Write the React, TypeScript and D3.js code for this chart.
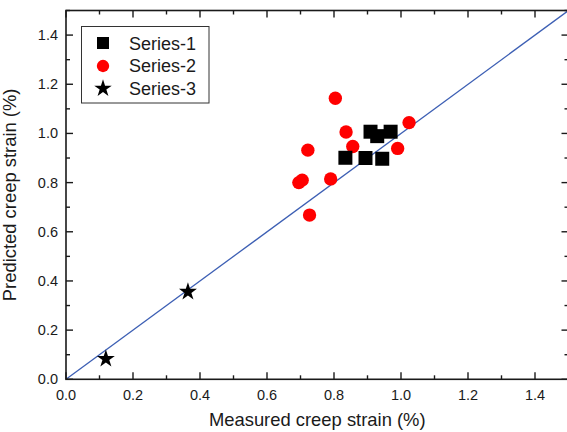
import React from "react";
import * as d3 from "d3";

const series1X = [0.834, 0.894, 0.944, 0.909, 0.929, 0.969];
const series1Y = [0.901, 0.9, 0.897, 1.007, 0.989, 1.007];
const series2X = [0.804, 0.836, 0.722, 0.856, 0.99, 1.024, 0.695, 0.705, 0.79, 0.727];
const series2Y = [1.143, 1.006, 0.932, 0.947, 0.939, 1.044, 0.8, 0.81, 0.815, 0.668];
const series3X = [0.119, 0.364];
const series3Y = [0.083, 0.356];
const majorTicks = [0, 0.2, 0.4, 0.6, 0.8, 1.0, 1.2, 1.4];
const minorTicks = [0.1, 0.3, 0.5, 0.7, 0.9, 1.1, 1.3, 1.5];
const legendLabels = ["Series-1", "Series-2", "Series-3"];
const domainMin = 0;
const domainMax = 1.5;

const W = 567;
const H = 432;
const L = 66, R = 568.5, T = 10.5, B = 379.3;
const font = "Arial, 'Liberation Sans', sans-serif";

export default function App() {
  const x = d3.scaleLinear().domain([domainMin, domainMax]).range([L, R]);
  const y = d3.scaleLinear().domain([domainMin, domainMax]).range([B, T]);
  const sq = d3.symbol().type(d3.symbolSquare).size(196)()!;
  const circ = d3.symbol().type(d3.symbolCircle).size(140)()!;
  const star = d3.symbol().type(d3.symbolStar).size(100)()!;
  const sqL = d3.symbol().type(d3.symbolSquare).size(144)()!;
  const circL = d3.symbol().type(d3.symbolCircle).size(120)()!;
  const starL = d3.symbol().type(d3.symbolStar).size(95)()!;
  const maj = 7, mnr = 4;
  return (
    <svg width={W} height={H} style={{ position: "absolute", left: 0, top: 0, background: "#fff" }}>
      <rect x={0} y={0} width={W} height={H} fill="#fff" />
      <line x1={x(domainMin)} y1={y(domainMin)} x2={x(domainMax)} y2={y(domainMax)} stroke="#3d5fb4" strokeWidth={1.3} />
      <rect x={L} y={T} width={R - L} height={B - T} fill="none" stroke="#1a1a1a" strokeWidth={1.6} />
      {majorTicks.map((t) => (
        <g key={"M" + t}>
          <line x1={x(t)} x2={x(t)} y1={B} y2={B - maj} stroke="#1a1a1a" strokeWidth={1.4} />
          <line x1={x(t)} x2={x(t)} y1={T} y2={T + maj} stroke="#1a1a1a" strokeWidth={1.4} />
          <line x1={L} x2={L + maj} y1={y(t)} y2={y(t)} stroke="#1a1a1a" strokeWidth={1.4} />
          <line x1={R} x2={R - maj} y1={y(t)} y2={y(t)} stroke="#1a1a1a" strokeWidth={1.4} />
          <text x={x(t)} y={400} fontFamily={font} fontSize={14.5} textAnchor="middle" fill="#1a1a1a">{t.toFixed(1)}</text>
          <text x={58} y={y(t) + 5} fontFamily={font} fontSize={14.5} textAnchor="end" fill="#1a1a1a">{t.toFixed(1)}</text>
        </g>
      ))}
      {minorTicks.map((t) => (
        <g key={"m" + t}>
          <line x1={x(t)} x2={x(t)} y1={B} y2={B - mnr} stroke="#1a1a1a" strokeWidth={1.4} />
          <line x1={x(t)} x2={x(t)} y1={T} y2={T + mnr} stroke="#1a1a1a" strokeWidth={1.4} />
          <line x1={L} x2={L + mnr} y1={y(t)} y2={y(t)} stroke="#1a1a1a" strokeWidth={1.4} />
          <line x1={R} x2={R - mnr} y1={y(t)} y2={y(t)} stroke="#1a1a1a" strokeWidth={1.4} />
        </g>
      ))}
      {series2X.map((v, i) => (
        <path key={"c" + i} d={circ} transform={`translate(${x(v)},${y(series2Y[i])})`} fill="#ff0000" />
      ))}
      {series1X.map((v, i) => (
        <path key={"s" + i} d={sq} transform={`translate(${x(v)},${y(series1Y[i])})`} fill="#000" />
      ))}
      {series3X.map((v, i) => (
        <path key={"t" + i} d={star} transform={`translate(${x(v)},${y(series3Y[i])})`} fill="#000" />
      ))}
      <rect x={81.5} y={26.5} width={127.5} height={76.5} fill="#fff" stroke="#333" strokeWidth={1} />
      <path d={sqL} transform="translate(103,43)" fill="#000" />
      <path d={circL} transform="translate(103,66)" fill="#ff0000" />
      <path d={starL} transform="translate(103,88.5)" fill="#000" />
      {legendLabels.map((l, i) => (
        <text key={l} x={129} y={49.5 + i * 22.7} fontFamily={font} fontSize={18} fill="#1a1a1a">{l}</text>
      ))}
      <text x={(L + R) / 2} y={426} fontFamily={font} fontSize={18.4} textAnchor="middle" fill="#1a1a1a">Measured creep strain (%)</text>
      <text transform={`translate(16,${(T + B) / 2}) rotate(-90)`} fontFamily={font} fontSize={18.4} textAnchor="middle" fill="#1a1a1a">Predicted creep strain (%)</text>
    </svg>
  );
}
